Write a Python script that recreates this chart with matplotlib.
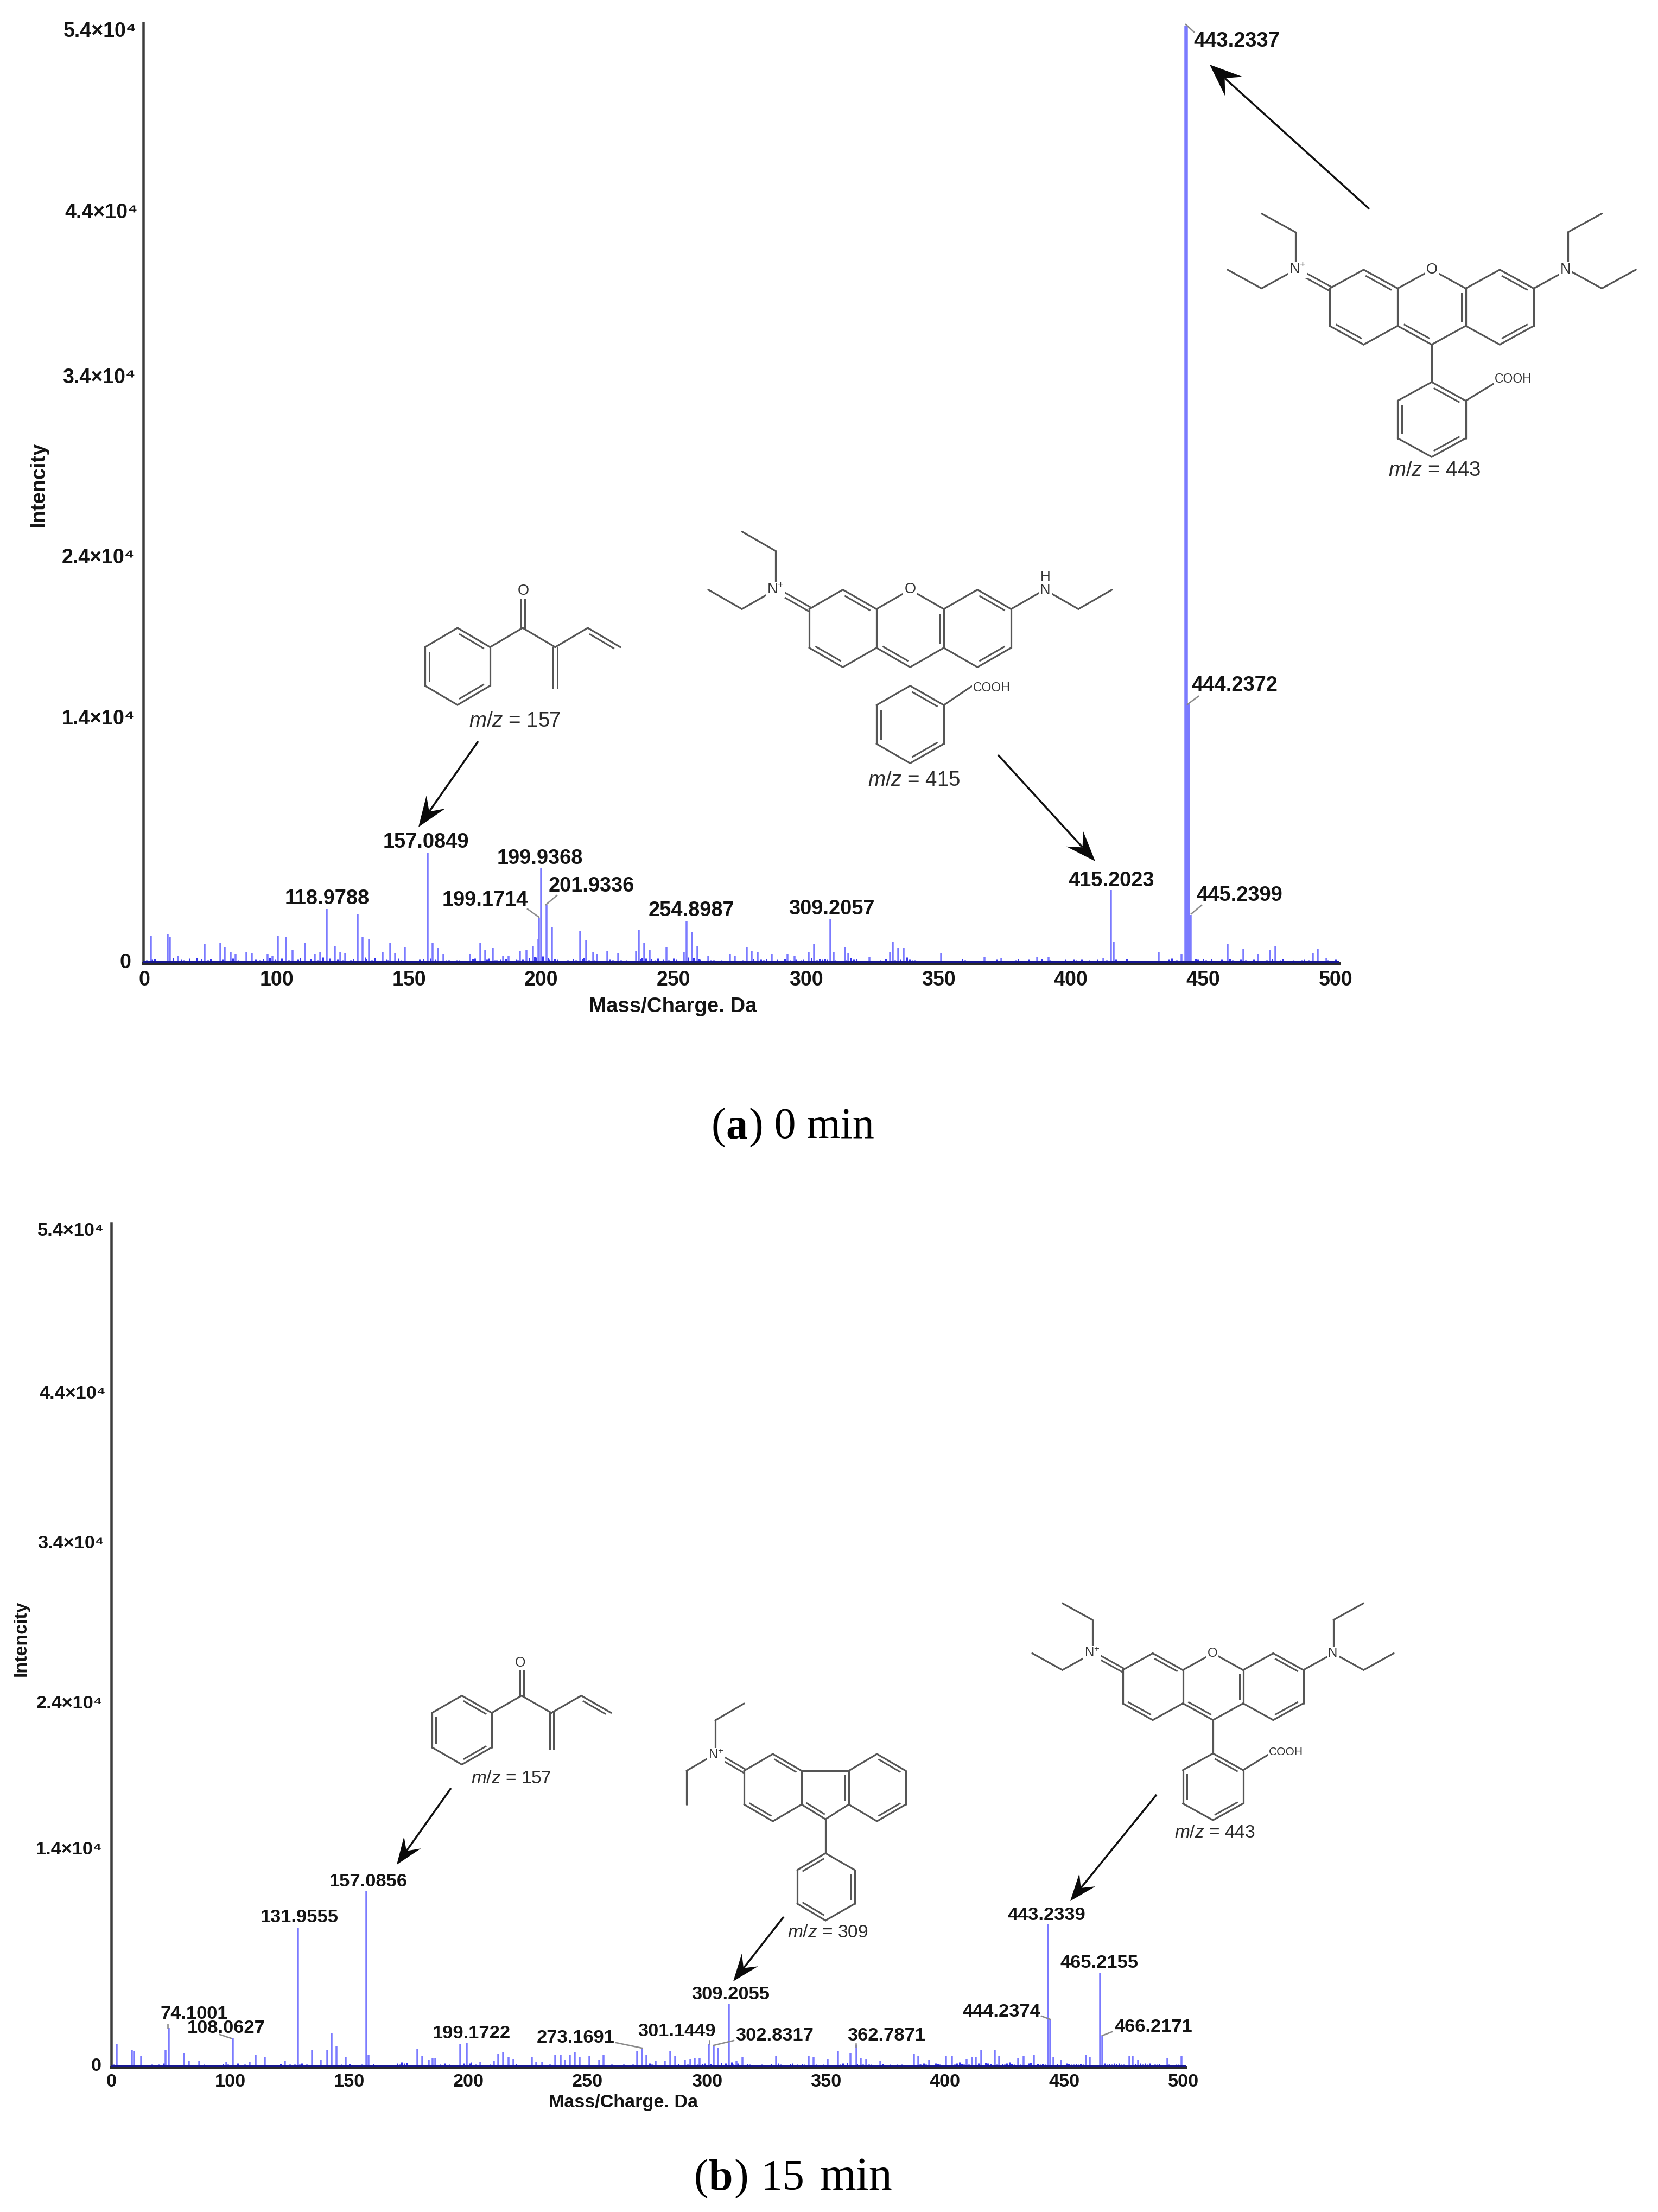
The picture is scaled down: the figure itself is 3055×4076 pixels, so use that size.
import matplotlib
matplotlib.use('Agg')
import matplotlib.pyplot as plt
from matplotlib.transforms import ScaledTranslation
import numpy as np

W, H = 3055, 4076
DPI = 100
SANS = ['Liberation Sans', 'DejaVu Sans']
SERIF = ['Liberation Serif', 'DejaVu Serif']

plt.rcParams['font.family'] = SANS
plt.rcParams['mathtext.fontset'] = 'custom'
plt.rcParams['mathtext.rm'] = 'Liberation Sans'
plt.rcParams['mathtext.it'] = 'Liberation Sans:italic'
plt.rcParams['mathtext.bf'] = 'Liberation Sans:bold'
plt.rcParams['mathtext.default'] = 'rm'

# axis labels, same on both panels (the "0" really sits at m/z 50)
x_ticks = [50, 100, 150, 200, 250, 300, 350, 400, 450, 500]
x_labels = ['0', '100', '150', '200', '250', '300', '350', '400', '450', '500']
y_ticks = [0, 14000, 24000, 34000, 44000, 54000]
y_labels = ['0', '1.4×10⁴', '2.4×10⁴', '3.4×10⁴', '4.4×10⁴', '5.4×10⁴']

# panel a, 0 min
mz_a = [52.5, 58.8, 59.8, 62.7, 72.9, 78.8, 80.5, 82.6, 84.6, 88.6, 90.7, 96.7, 98.5, 100.6,
        103.5, 106, 110.8, 114.4, 116.5, 118.98, 122, 124, 126, 130.7, 132.5, 135, 140, 143,
        144.8, 148.5, 157.08, 159, 161, 163, 173, 177, 178.8, 181.7, 185.6, 187.6, 192, 194.4,
        196.8, 198.8, 199.17, 199.94, 201.93, 204, 214.6, 217, 219.6, 221, 225, 229, 235.8,
        236.9, 238.9, 240.9, 247.3, 253.8, 254.9, 256.9, 258.9, 263, 271.2, 273, 277.6, 279.5,
        281.7, 287, 293, 295.7, 301, 303, 309.2, 310.4, 314.7, 316, 324, 331.7, 332.7, 334.8,
        336.9, 351, 367.4, 373.8, 387.2, 391.6, 412.3, 415.2, 416.2, 433.1, 441.8, 443.23,
        443.75, 444.24, 444.7, 445.24, 459.2, 465.2, 470.7, 475.2, 477.2, 491.3, 493.2, 496.4]
int_a = [1555, 1685, 1490, 430, 1100, 1166, 946, 650, 520, 650, 583, 520, 450, 1555,
         1490, 740, 1166, 520, 650, 3110, 1010, 650, 583, 2812, 1530, 1400, 650, 1166,
         583, 946, 6350, 1166, 870, 520, 520, 1166, 780, 870, 450, 430, 710, 780,
         1000, 1360, 2630, 5480, 3370, 2070, 1880, 1300, 650, 520, 710, 583, 710,
         1920, 1166, 780, 946, 650, 2420, 1814, 1000, 450, 520, 450, 946, 710,
         650, 520, 520, 450, 650, 1100, 2530, 650, 946, 583, 390, 650, 1257, 907,
         870, 583, 390, 324, 390, 350, 300, 4212, 1231, 650, 520, 54000,
         54000, 14900, 14900, 2786, 1100, 816, 520, 740, 1000, 583, 816, 324]
noise_mz_a = [51, 52, 53, 54, 55, 56, 57, 61, 64, 65, 66, 67, 68, 69, 70, 71.5, 74, 75, 76, 77, 79.5, 83.5, 85.5, 86,
              87, 89.5, 92, 93.5, 95, 97.5, 99.5, 102, 104.5, 105, 107, 108, 109, 112, 113, 115.5, 117.5, 120,
              121, 123, 125, 127, 128, 129, 133.5, 134, 136, 137, 138.5, 141.5, 142, 146, 147, 150, 151, 152,
              153, 154, 155.5, 156, 158, 160, 162, 164, 165, 166, 167, 168, 169, 170, 171, 172, 174, 175, 176,
              179.5, 180, 182.5, 183, 184.5, 186.5, 189, 190.5, 191, 193, 195.5, 197.5, 198, 200.5, 202.5,
              203, 205, 206, 207, 208, 209, 210, 211, 212, 213, 215.5, 216, 218, 220, 222, 223, 224, 226, 227,
              228, 230, 231, 232, 233, 234, 237.5, 238, 239.5, 241.5, 242, 243, 244, 245, 246, 248, 249, 250,
              251, 252.5, 255.5, 257.5, 259.5, 260, 261, 262, 264, 265, 266, 267, 268, 269, 270, 272, 274, 275,
              276, 278, 280, 282.5, 283, 284, 285, 286, 288, 289, 290, 291, 292, 294, 296, 297, 298, 299, 300,
              302, 304, 305, 306, 307, 308, 311, 312, 313, 315, 317, 318, 319, 320, 321, 322, 323, 325, 326, 327,
              328, 329, 330, 333.5, 335.5, 338, 339, 340, 341, 342, 343, 344, 345, 346, 347, 348, 349, 350, 352,
              353, 354, 355, 356, 357, 358, 359, 360, 361, 362, 363, 364, 365, 366, 368, 369, 370, 371, 372, 375,
              376, 377, 378, 379, 380, 381, 382, 383, 384, 385, 386, 388, 389, 390, 392, 393, 394, 395, 396, 397,
              398, 399, 400, 401, 402, 403, 404, 405, 406, 407, 408, 409, 410, 411, 413.5, 414, 417, 418, 419, 420,
              421, 422, 423, 424, 425, 426, 427, 428, 429, 430, 431, 432, 434, 435, 436, 437, 438, 439, 440, 446,
              447, 448, 449, 450, 451, 452, 453, 454, 455, 456, 457, 458, 460, 461, 462, 463, 464, 466, 467, 468,
              469, 471, 472, 473, 474, 476, 478, 479, 480, 481, 482, 483, 484, 485, 486, 487, 488, 489, 490, 492,
              494, 495, 497, 498, 499, 500]
noise_int_a = [180, 140, 230, 260, 120, 140, 170, 320, 210, 180, 120, 290, 170, 110, 300, 240, 190, 240, 130, 160, 210, 280, 200, 150,
               130, 170, 230, 180, 260, 310, 220, 290, 190, 170, 130, 220, 300, 130, 250, 200, 340, 280,
               160, 230, 190, 150, 190, 250, 330, 260, 190, 310, 150, 220, 180, 280, 200, 170, 140, 120,
               170, 210, 260, 130, 280, 220, 160, 180, 180, 120, 130, 190, 200, 170, 150, 120, 240, 290, 170,
               210, 290, 180, 180, 220, 250, 160, 230, 190, 220, 300, 360, 340, 410, 300,
               220, 260, 210, 170, 150, 120, 180, 140, 240, 200, 260, 320, 200, 180, 170, 130, 150, 220, 190,
               140, 200, 140, 190, 120, 160, 260, 310, 290, 240, 170, 200, 290, 170, 210, 180, 160, 280, 220,
               150, 340, 300, 260, 230, 150, 140, 200, 180, 130, 120, 180, 130, 170, 140, 120, 150, 190, 160, 250,
               170, 210, 190, 240, 140, 170, 210, 140, 170, 260, 180, 220, 170, 180, 220, 150, 300, 180, 260,
               210, 240, 210, 190, 170, 140, 190, 310, 220, 260, 140, 170, 130, 110, 100, 120, 140, 190, 150, 260,
               180, 230, 330, 210, 190, 200, 140, 110, 120, 130, 110, 150, 100, 140, 170, 130, 100, 110, 140, 110,
               150, 120, 260, 190, 140, 110, 130, 100, 140, 170, 120, 170, 110, 150, 210, 110, 150, 130, 100, 180,
               260, 120, 170, 110, 220, 130, 150, 100, 240, 120, 200, 170, 130, 160, 150, 120, 210, 110, 150, 230,
               190, 150, 210, 160, 140, 190, 110, 150, 210, 120, 180, 140, 230, 150, 100, 130, 260, 140, 120, 110,
               100, 170, 130, 150, 120, 110, 170, 140, 150, 170, 110, 220, 280, 130, 190, 150, 260, 210, 150, 250,
               190, 150, 240, 130, 170, 140, 210, 120, 250, 180, 140, 160, 230, 180, 130, 150, 230, 170, 140, 150,
               190, 260, 130, 190, 240, 120, 170, 110, 200, 170, 150, 180, 230, 130, 190, 160, 120, 150, 190, 150,
               170, 210, 140, 130, 110, 100]

# panel b, 15 min
mz_b = [52.3, 58.7, 59.6, 62.5, 72.7, 74.1, 80.5, 82.6, 86.8, 98.3, 101, 108, 110.7, 114.5,
        122.9, 128.4, 134.3, 138, 140.6, 142.6, 144.6, 148.4, 157.08, 158, 178.5, 180.5, 183.2,
        184.9, 186.1, 196.4, 199.17, 205, 210.6, 212.4, 214.5, 216.8, 218.8, 226.6, 228.5,
        230.9, 236.3, 238.7, 240.4, 242.6, 244.5, 246.6, 250.8, 254.8, 256.7, 270.8, 272.8,
        274.7, 278.6, 282.3, 284.6, 286.6, 290.8, 293, 295, 297, 300.9, 302.8, 304.8, 309.2,
        312.4, 314.9, 329.2, 342.7, 344.8, 350.7, 355, 360.4, 362.8, 364.7, 367, 372.9, 387,
        388.8, 393.3, 400.3, 402.9, 409, 411.3, 412.9, 415.3, 420.9, 422.8, 430.8, 433, 437.4,
        443.3, 444.2, 445.4, 448.6, 459.1, 460.8, 465.2, 466, 477.4, 478.7, 481, 493.3, 499.2]
int_b = [1463, 1104, 1037, 705, 1104, 2500, 904, 372, 372, 306, 1840, 306, 798, 665,
         372, 8950, 1130, 440, 1064, 2168, 1343, 665, 11278, 770, 1170, 705, 440,
         570, 600, 1463, 1530, 306, 372, 865, 970, 665, 532, 665, 306,
         306, 798, 811, 479, 770, 931, 638, 731, 439, 771, 1037, 1197,
         771, 372, 372, 1037, 705, 439, 532, 545, 572, 1503, 1370, 1263, 4056,
         372, 638, 705, 705, 638, 505, 997, 904, 1436, 572, 505, 372, 878,
         705, 439, 705, 745, 505, 638, 665, 1064, 1104, 745, 572, 745, 798,
         9150, 3059, 612, 439, 798, 638, 6065, 2008, 745, 705, 439, 572, 745]
noise_mz_b = [51, 54, 56, 61, 64, 67, 70, 72, 76, 78, 84.5, 89, 91, 93, 95, 97, 99, 100, 103, 104, 106, 109, 112, 116, 118,
              120, 121, 124, 125, 127, 129, 130, 132, 136, 146.5, 150, 151, 153, 155, 160, 163, 166, 168.5, 170, 171, 172,
              173, 174, 176, 188, 190, 192, 194, 195, 198, 200.5, 201, 203, 207, 209, 220, 222, 224, 232, 234,
              248, 252, 258, 260, 261, 263, 265, 267, 269, 276, 277, 280, 281, 288, 289, 292, 296, 298, 299, 301.5, 306, 308, 310.5,
              311, 313, 316, 317, 318, 319, 320, 322, 323, 325, 327, 330, 331, 333, 335, 336, 338, 340, 341, 343.5, 346, 347, 349,
              352, 353, 356, 357, 359, 361, 363, 365.5, 368, 369, 371, 374, 375, 376, 377, 378, 379, 380, 381, 382, 383, 384, 385,
              389.5, 390, 391, 392, 395, 396, 397, 398, 399, 401, 404, 405, 406, 407, 408, 410, 414, 417, 418, 419, 421.5, 424, 425,
              426, 427, 428, 429, 431.5, 434, 435, 436, 439, 440, 441, 442, 447, 449, 450, 451, 452, 453, 454, 455, 456, 457, 458,
              462, 463, 464, 467, 468, 469, 470, 471, 472, 473, 474, 475, 476, 480, 482, 483, 484, 485, 486, 487, 488, 489, 490,
              491, 492, 494, 495, 496, 497, 498, 500]
noise_int_b = [170, 120, 150, 130, 110, 160, 190, 260, 130, 100, 140, 170, 120, 110, 150, 210, 170, 130, 230, 140, 160, 110, 130, 110, 150,
               120, 210, 140, 180, 160, 190, 240, 190, 130, 170, 200, 120, 140, 180, 200, 150, 130, 110, 260, 190, 300,
               230, 280, 140, 170, 230, 190, 150, 130, 260, 260, 300, 180, 130, 160, 200, 150, 130, 110, 170,
               150, 120, 140, 190, 110, 130, 160, 120, 180, 230, 170, 150, 120, 210, 150, 170, 180, 200, 260, 220, 280, 230, 300,
               180, 240, 150, 200, 170, 150, 130, 110, 160, 130, 210, 260, 190, 150, 200, 260, 170, 210, 170, 130, 190, 150, 190,
               150, 120, 190, 230, 280, 150, 210, 170, 190, 160, 150, 210, 130, 110, 170, 150, 120, 160, 130, 170, 150, 110, 130, 190,
               190, 240, 170, 150, 260, 200, 170, 150, 130, 190, 260, 300, 210, 170, 190, 240, 280, 240, 210, 190, 210, 170, 240, 300,
               200, 190, 170, 130, 230, 280, 210, 190, 220, 180, 210, 130, 150, 250, 200, 190, 170, 210, 160, 210, 170, 150, 130, 140,
               240, 190, 210, 170, 230, 210, 240, 170, 190, 150, 210, 250, 190, 230, 170, 260, 150, 190, 170, 210, 150, 130, 190, 150,
               130, 170, 190, 150, 130, 190, 150, 170]

# molecule skeletons: u in half-ring widths, v in bond lengths
RING_SINGLE = [((1, -.5), (1, .5)), ((0, 1), (-1, .5)), ((-1, -.5), (0, -1))]
RING_DOUBLE = [((0, -1), (1, -.5), (0, 0)), ((1, .5), (0, 1), (0, 0)), ((-1, .5), (-1, -.5), (0, 0))]

XAN_SINGLE = [((-3, -.5), (-2, -1)), ((-1, -.5), (-1, .5)), ((-2, 1), (-1, .5)), ((-3, .5), (-3, -.5)),
              ((-1, -.5), (0, -1)), ((0, -1), (1, -.5)), ((1, .5), (0, 1)), ((1, -.5), (2, -1)),
              ((3, -.5), (3, .5)), ((2, 1), (1, .5)), ((3, -.5), (4, -1)),
              ((-4, -1), (-4, -2)), ((-4, -2), (-5, -2.5)), ((-4, -1), (-5, -.5)), ((-5, -.5), (-6, -1))]
XAN_DOUBLE = [((-2, -1), (-1, -.5), (-2, 0)), ((-1, .5), (0, 1), (0, 0)), ((-3, .5), (-2, 1), (-2, 0)),
              ((1, -.5), (1, .5), (0, 0)), ((2, -1), (3, -.5), (2, 0)), ((3, .5), (2, 1), (2, 0))]
XAN_EXO = [((-3, -.5), (-4, -1))]
DIETHYL_RIGHT = [((4, -1), (4, -2)), ((4, -2), (5, -2.5)), ((4, -1), (5, -.5)), ((5, -.5), (6, -1))]
ETHYL_RIGHT = [((4, -1), (5, -.5)), ((5, -.5), (6, -1))]
PHENYL_SINGLE = [((0, 1), (0, 2)), ((1, 2.5), (1, 3.5)), ((0, 4), (-1, 3.5)), ((-1, 2.5), (0, 2)), ((1, 2.5), (1.9, 2))]
PHENYL_DOUBLE = [((0, 2), (1, 2.5), (0, 3)), ((1, 3.5), (0, 4), (0, 3)), ((-1, 3.5), (-1, 2.5), (0, 3))]

KETO_SINGLE = RING_SINGLE + [((1, -.5), (2, -1)), ((2, -1), (3, -.5)), ((3, -.5), (4, -1))]
KETO_DOUBLE = RING_DOUBLE + [((4, -1), (5, -.5), (4, 0))]
KETO_EXO = [((2, -1), (2, -1.8)), ((3, -.5), (3, .55))]

FL_SINGLE = [((-1, -.5), (0, -1)), ((1, -.5), (1, .5)), ((0, 1), (1, .5)), ((-1, .5), (-1, -.5)),
             ((1, -.5), (2.64, -.5)), ((1.83, .94), (2.64, .5)), ((2.64, -.5), (3.62, -1)),
             ((4.62, -.5), (4.62, .5)), ((3.62, 1), (2.64, .5)),
             ((-2, -1), (-2, -2)), ((-2, -2), (-1, -2.5)), ((-2, -1), (-3, -.5)), ((-3, -.5), (-3, .5)),
             ((1.83, .94), (1.83, 1.95)), ((1.83, 1.95), (2.85, 2.45)), ((2.85, 3.45), (1.83, 3.95)),
             ((.85, 2.45), (.85, 3.45))]
FL_DOUBLE = [((0, -1), (1, -.5), (0, 0)), ((-1, .5), (0, 1), (0, 0)), ((1, .5), (1.83, .94), (1.83, 0)),
             ((2.64, -.5), (2.64, .5), (1.83, 0)), ((3.62, -1), (4.62, -.5), (3.62, 0)),
             ((4.62, .5), (3.62, 1), (3.62, 0)), ((1.83, 1.95), (.85, 2.45), (1.83, 2.95)),
             ((.85, 3.45), (1.83, 3.95), (1.83, 2.95)), ((2.85, 3.45), (2.85, 2.45), (1.83, 2.95))]
FL_EXO = [((-1, -.5), (-2, -1))]

BOND = '#555555'
LABEL = '#141414'
PEAK = '#7b7bff'
NOISE = '#3434ee'
AXIS = '#3c3c3c'


def pts(px):
    return px * 72.0 / DPI


def make_axes(left, right, bottom, top):
    return fig.add_axes([left / W, 1 - bottom / H, (right - left) / W, (bottom - top) / H])


def spectrum(ax, mz, inten, nmz, nint, xlim, ylim, fpx, pad, shifts):
    n = min(len(nmz), len(nint))
    ax.vlines(nmz[:n], 0, nint[:n], color=NOISE, lw=pts(3), zorder=2)
    ax.vlines(mz, 0, inten, color=PEAK, lw=pts(3.5), zorder=3)
    ax.axhline(70, color='#16168f', lw=pts(4), zorder=4)
    ax.set_xlim(*xlim)
    ax.set_ylim(*ylim)
    for s in ['top', 'right']:
        ax.spines[s].set_visible(False)
    ax.spines['left'].set_linewidth(pts(4.5))
    ax.spines['bottom'].set_linewidth(pts(5))
    ax.spines['left'].set_color(AXIS)
    ax.spines['bottom'].set_color('#2a2a2a')
    ax.set_xticks(x_ticks, x_labels, fontsize=pts(fpx), fontweight='bold', color=LABEL)
    ax.set_yticks(y_ticks, y_labels, fontsize=pts(fpx), fontweight='bold', color=LABEL)
    ax.tick_params(axis='both', length=0)
    ax.tick_params(axis='x', pad=pts(pad))
    ax.tick_params(axis='y', pad=pts(pad + 3))
    # the labels are not quite on their values in the original
    for lab, (dx, dy) in zip(ax.get_yticklabels(), shifts):
        lab.set_transform(lab.get_transform() + ScaledTranslation(dx / DPI, -dy / DPI, fig.dpi_scale_trans))


def bonds(cx, cy, sx, sy, single, double=(), exo=(), gap=8):
    P = lambda p: np.array([cx + p[0] * sx, cy + p[1] * sy])
    for a, b in single:
        a, b = P(a), P(b)
        ov.plot([a[0], b[0]], [a[1], b[1]], color=BOND, lw=pts(3.2), solid_capstyle='round')
    for a, b, c in double:
        a, b, c = P(a), P(b), P(c)
        ov.plot([a[0], b[0]], [a[1], b[1]], color=BOND, lw=pts(3.2), solid_capstyle='round')
        d = b - a
        n = np.array([-d[1], d[0]]) / np.hypot(*d)
        if np.dot(n, c - a) < 0:
            n = -n
        a2, b2 = a + .14 * d + n * gap, b - .14 * d + n * gap
        ov.plot([a2[0], b2[0]], [a2[1], b2[1]], color=BOND, lw=pts(3.0))
    for a, b in exo:
        a, b = P(a), P(b)
        d = b - a
        n = np.array([-d[1], d[0]]) / np.hypot(*d)
        for sgn in (-.5, .5):
            ov.plot([a[0] + n[0] * gap * sgn, b[0] + n[0] * gap * sgn],
                    [a[1] + n[1] * gap * sgn, b[1] + n[1] * gap * sgn], color=BOND, lw=pts(3.0))


def atom(x, y, s, fpx, ha='center'):
    ov.text(x, y, s, fontsize=pts(fpx), color='#333333', ha=ha, va='center', zorder=6,
            bbox=dict(fc='white', ec='none', pad=1.5))


def arrow(x0, y0, x1, y1, L=56, w=21):
    d = np.array([x1 - x0, y1 - y0], dtype=float)
    d /= np.hypot(*d)
    n = np.array([-d[1], d[0]])
    tip = np.array([x1, y1])
    notch = tip - d * L * .62
    ov.plot([x0, notch[0]], [y0, notch[1]], color='#111111', lw=pts(3.6), solid_capstyle='butt')
    poly = np.array([tip, tip - d * L + n * w, notch, tip - d * L - n * w])
    ov.fill(poly[:, 0], poly[:, 1], color='#0a0a0a', lw=0, zorder=5)


def mz_text(x, y, val, fpx):
    ov.text(x, y, r'$\mathit{m/z}$ = ' + val, fontsize=pts(fpx), color='#2c2c2c', ha='center', va='center')


def serif(x, y, s, fpx=80, weight='normal'):
    ov.text(x, y, s, family=SERIF, fontweight=weight, fontsize=pts(fpx), color='black', va='baseline')


fig = plt.figure(figsize=(W / DPI, H / DPI), dpi=DPI, facecolor='white')

ax_a = make_axes(264, 2467, 1775, 42)
spectrum(ax_a, mz_a, int_a, noise_mz_a, noise_int_a, (49.67, 501.2), (0, 54156), 37.5, 13,
         [(-7, -5), (0, -6), (0, 17), (2, 5), (6, 21), (3, 7)])
ax_a.set_xlabel('Mass/Charge. Da', fontsize=pts(38.4), fontweight='bold', color=LABEL)
ax_a.xaxis.set_label_coords(1240 / W, 1 - 1855 / H, transform=fig.transFigure)
ax_a.xaxis.label.set_va('center')
ax_a.set_ylabel('Intencity', fontsize=pts(38), fontweight='bold', color=LABEL)
ax_a.yaxis.set_label_coords(72 / W, 1 - 893 / H, transform=fig.transFigure)
ax_a.yaxis.label.set_va('center')

ax_b = make_axes(205, 2185, 3809, 2254)
spectrum(ax_b, mz_b, int_b, noise_mz_b, noise_int_b, (50, 501.1), (0, 54087), 34.3, 12,
         [(-3, -5), (-1, -2), (0, 17), (2, 9), (5, 21), (2, 8)])
ax_b.set_xlabel('Mass/Charge. Da', fontsize=pts(34.2), fontweight='bold', color=LABEL)
ax_b.xaxis.set_label_coords(1149 / W, 1 - 3874 / H, transform=fig.transFigure)
ax_b.xaxis.label.set_va('center')
ax_b.set_ylabel('Intencity', fontsize=pts(34), fontweight='bold', color=LABEL)
ax_b.yaxis.set_label_coords(39 / W, 1 - 3019 / H, transform=fig.transFigure)
ax_b.yaxis.label.set_va('center')

# overlay in picture pixels for the annotations and the drawn structures
ov = fig.add_axes([0, 0, 1, 1], zorder=10)
ov.set_xlim(0, W)
ov.set_ylim(H, 0)
ov.axis('off')
ov.patch.set_alpha(0)

peak_text_a = ['157.0849', '199.9368', '201.9336', '118.9788', '199.1714', '254.8987',
               '309.2057', '415.2023', '445.2399', '443.2337', '444.2372']
peak_xy_a = [(785, 1552), (995, 1582), (1090, 1633), (603, 1656), (894, 1659), (1274, 1678),
             (1532, 1675), (2048, 1623), (2284, 1650), (2279, 76), (2275, 1263)]
peak_text_b = ['157.0856', '131.9555', '74.1001', '108.0627', '199.1722', '273.1691', '301.1449',
               '302.8317', '309.2055', '362.7871', '443.2339', '465.2155', '444.2374', '466.2171']
peak_xy_b = [(679, 3468), (552, 3534), (358, 3711), (417, 3738), (869, 3748), (1061, 3756), (1247, 3743),
             (1427, 3751), (1346, 3676), (1633, 3751), (1928, 3529), (2026, 3617), (1845, 3708), (2125, 3736)]
for s, (x, y) in zip(peak_text_a, peak_xy_a):
    ov.text(x, y, s, fontsize=pts(38), fontweight='bold', color=LABEL, ha='center', va='center')
for s, (x, y) in zip(peak_text_b, peak_xy_b):
    ov.text(x, y, s, fontsize=pts(34.5), fontweight='bold', color=LABEL, ha='center', va='center')

leaders = [(972, 1675, 993, 1690), (1026, 1650, 1006, 1667), (2214, 1668, 2195, 1684), (2200, 59, 2185, 45),
           (2208, 1283, 2188, 1298), (405, 3749, 426, 3756), (1135, 3764, 1183, 3774), (1307, 3760, 1307, 3766),
           (1352, 3760, 1315, 3769), (1577, 3766, 1577, 3772), (1919, 3715, 1935, 3721), (2049, 3744, 2031, 3751),
           (309, 3730, 309, 3737)]
for x0, y0, x1, y1 in leaders:
    ov.plot([x0, x1], [y0, y1], color='#8a8a8a', lw=pts(2.6))

# panel a structures
bonds(2638, 566, 62.7, 69, XAN_SINGLE + DIETHYL_RIGHT + PHENYL_SINGLE, XAN_DOUBLE + PHENYL_DOUBLE, XAN_EXO)
atom(2638, 497, 'O', 27)
atom(2391, 497, 'N$^{+}$', 27)
atom(2885, 497, 'N', 27)
atom(2754, 698, 'COOH', 23, ha='left')
mz_text(2643, 867, '443', 38.5)

bonds(1677, 1158, 62, 71.4, XAN_SINGLE + ETHYL_RIGHT, XAN_DOUBLE, XAN_EXO)
atom(1677, 1086, 'O', 27)
atom(1429, 1087, 'N$^{+}$', 27)
atom(1926, 1088, 'N', 27)
atom(1926, 1063, 'H', 26)
bonds(1677, 1335, 62, 71.4, RING_SINGLE + [((1, -.5), (1.85, -1))], RING_DOUBLE)
atom(1793, 1267, 'COOH', 23, ha='left')
mz_text(1684, 1438, '415', 38.5)

bonds(843, 1228, 60, 71, KETO_SINGLE, KETO_DOUBLE, KETO_EXO)
atom(964, 1089, 'O', 27)
mz_text(949, 1329, '157', 38.5)

arrow(881, 1366, 771, 1524)
arrow(1839, 1391, 2018, 1587)
arrow(2523, 385, 2229, 119, L=60, w=24)

# panel b structures
bonds(851, 3188, 55, 63.5, KETO_SINGLE, KETO_DOUBLE, KETO_EXO, gap=7)
atom(959, 3064, 'O', 25)
mz_text(942, 3277, '157', 33.5)

bonds(1424, 3294, 53, 62, FL_SINGLE, FL_DOUBLE, FL_EXO, gap=7)
atom(1319, 3235, 'N$^{+}$', 24)
mz_text(1525, 3562, '309', 33.5)

bonds(2235, 3108, 55.5, 61.5, XAN_SINGLE + DIETHYL_RIGHT + PHENYL_SINGLE, XAN_DOUBLE + PHENYL_DOUBLE, XAN_EXO, gap=7)
atom(2234, 3047, 'O', 24)
atom(2012, 3047, 'N$^{+}$', 24)
atom(2456, 3047, 'N', 24)
atom(2338, 3228, 'COOH', 21, ha='left')
mz_text(2238, 3377, '443', 33.5)

arrow(831, 3295, 731, 3436, L=50, w=19)
arrow(1444, 3532, 1351, 3651, L=50, w=19)
arrow(2131, 3307, 1972, 3503, L=50, w=19)

# captions
serif(1310, 2098, '(')
serif(1337, 2098, 'a', weight='bold')
serif(1380, 2098, ') 0 min')
serif(1279, 4035, '(')
serif(1306, 4035, 'b', weight='bold')
serif(1352, 4035, ')')
serif(1402, 4035, '15')
serif(1510, 4035, 'min', fpx=86)

fig.savefig('out.png', dpi=DPI)
